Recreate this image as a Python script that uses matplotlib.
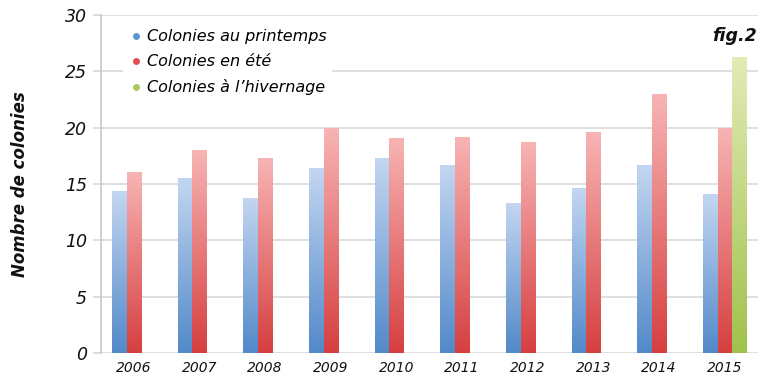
import numpy as np
import matplotlib
matplotlib.use("Agg")
import matplotlib.pyplot as plt
from matplotlib.colors import LinearSegmentedColormap

years = ["2006", "2007", "2008", "2009", "2010", "2011", "2012", "2013", "2014", "2015"]
printemps = [14.3, 15.5, 13.7, 16.4, 17.3, 16.6, 13.3, 14.6, 16.6, 14.1]
ete = [16.0, 18.0, 17.3, 19.9, 19.0, 19.1, 18.7, 19.6, 22.9, 19.9]
hivernage = [0, 0, 0, 0, 0, 0, 0, 0, 0, 26.2]
labels = ["Colonies au printemps", "Colonies en été", "Colonies à l\u2019hivernage"]

fam = ["DejaVu Sans"]
fig = plt.figure(figsize=(7.68, 3.84), dpi=100)
ax = fig.add_axes([0.1315, 0.0807, 0.855, 0.8803])

x = np.arange(len(years))
w = 0.222
series = [
    (printemps, -w, "#c3d6f1", "#5289c9"),
    (ete, 0.0, "#f8b4b4", "#d63f40"),
    (hivernage, w, "#e3ebb6", "#9fc24c"),
]
grad = np.linspace(0, 1, 256).reshape(-1, 1)
for vals, off, ctop, cbot in series:
    cmap = LinearSegmentedColormap.from_list("g", [cbot, ctop])
    bars = ax.bar(x + off, vals, width=w, color="none", edgecolor="none", zorder=2)
    for b in bars:
        h = b.get_height()
        if h <= 0:
            continue
        x0 = b.get_x()
        ax.imshow(grad, cmap=cmap, origin="lower", aspect="auto",
                  extent=(x0, x0 + b.get_width(), 0, h), zorder=2, interpolation="bilinear")

ax.set_xlim(-0.5, 9.5)
ax.set_ylim(0, 30)
ax.set_yticks([0, 5, 10, 15, 20, 25, 30])
ax.set_xticks(x)
ax.set_xticklabels(years)
ax.grid(axis="y", color="#d9d9d9", linewidth=1.2, zorder=0)
ax.set_axisbelow(True)
for s in ["top", "right", "bottom"]:
    ax.spines[s].set_visible(False)
ax.spines["left"].set_color("#c8c8c8")
ax.spines["left"].set_linewidth(1.2)
ax.tick_params(axis="y", length=6, color="#d9d9d9", width=1.2, pad=4, labelsize=12.5)
ax.tick_params(axis="x", length=0, pad=6, labelsize=10)
for lab in ax.get_yticklabels() + ax.get_xticklabels():
    lab.set_fontstyle("italic")
    lab.set_family(fam)
    lab.set_color("#111111")

ax.set_ylabel("Nombre de colonies", fontsize=12, fontstyle="italic", fontweight="bold",
              family=fam, labelpad=26, color="#111111")

handles = [plt.Line2D([], [], marker="o", linestyle="none", markersize=5,
                      markerfacecolor=c, markeredgecolor="none") for c in ["#5b93d3", "#e05050", "#a9c95a"]]
leg = ax.legend(handles, labels, loc="upper left", bbox_to_anchor=(0.022, 0.995),
                frameon=True, framealpha=1, edgecolor="none", facecolor="white",
                prop={"family": fam, "style": "italic", "size": 11.5},
                handletextpad=0.2, handlelength=1.0, labelspacing=0.62, borderpad=0.3)
leg.set_zorder(3)

fig.text(0.986, 0.905, "fig.2", ha="right", va="center", fontsize=12.5, fontstyle="italic",
         fontweight="bold", family=fam, color="#111111")

fig.savefig("out.png", dpi=100)
